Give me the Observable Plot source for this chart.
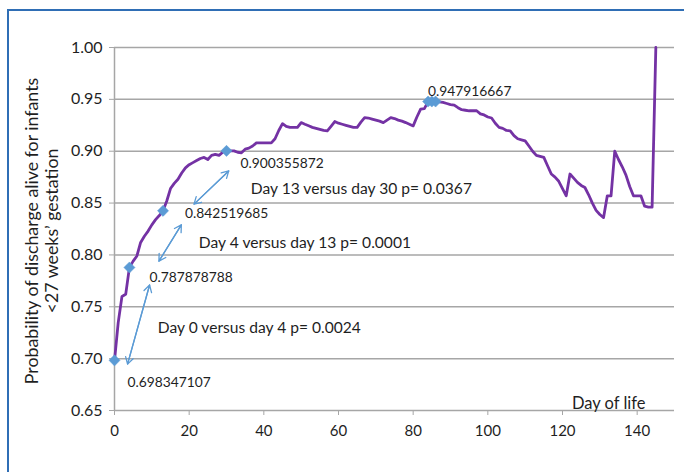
<!DOCTYPE html>
<html>
<head>
<meta charset="utf-8">
<script src="https://cdn.jsdelivr.net/npm/d3@7"></script>
<script src="https://cdn.jsdelivr.net/npm/@observablehq/plot@0.6"></script>
<style>
  html, body { margin: 0; padding: 0; background: #fff; }
  #wrap { position: relative; width: 684px; height: 472px; overflow: hidden; }
  #frame { position: absolute; left: 7px; top: 9px; width: 700px; height: 500px;
           border-left: 2px solid #2f6eb5; border-top: 2px solid #2f6eb5; }
  #chart { position: absolute; left: 0; top: 0; }
</style>
</head>
<body>
<div id="wrap"><div id="frame"></div><div id="chart"></div></div>
<script>
// ---- data ----
const days = [
  0,1,2,3,4,5,6,7,8,9,10,11,12,13,14,15,16,17,18,19,20,21,22,23,24,25,26,27,28,29,30,
  31,32,33,34,35,36,37,38,39,40,41,42,43,44,45,46,47,48,49,50,51,52,53,54,55,56,57,58,59,60,
  61,62,63,64,65,66,67,68,69,70,71,72,73,74,75,76,77,78,79,80,81,82,83,84,85,86,87,88,89,90,
  91,92,93,94,95,96,97,98,99,100,101,102,103,104,105,106,107,108,109,110,111,112,113,114,115,116,117,118,119,120,
  121,122,123,124,125,126,127,128,129,130,131,132,133,134,135,136,137,138,139,140,141,142,143,144,145
];
const probability = [
  0.698,0.735,0.760,0.762,0.788,0.794,0.799,0.812,0.818,0.823,0.829,0.834,0.838,0.8425,0.852,0.864,0.869,0.873,0.879,0.884,0.887,0.889,0.891,0.893,0.894,0.892,0.896,0.897,0.896,0.899,0.9004,
  0.9003,0.9003,0.899,0.8985,0.902,0.903,0.905,0.908,0.908,0.908,0.908,0.908,0.912,0.920,0.9266,0.924,0.923,0.923,0.923,0.9276,0.926,0.9245,0.923,0.922,0.921,0.920,0.9196,0.924,0.9286,0.927,
  0.926,0.925,0.924,0.923,0.923,0.928,0.9324,0.932,0.931,0.930,0.929,0.9276,0.930,0.9324,0.9315,0.930,0.929,0.9276,0.926,0.9244,0.933,0.9405,0.941,0.9479,0.9479,0.9479,0.9475,0.947,0.946,0.945,
  0.9445,0.942,0.940,0.9395,0.939,0.939,0.939,0.936,0.935,0.933,0.932,0.927,0.923,0.922,0.920,0.9196,0.915,0.912,0.911,0.910,0.905,0.900,0.896,0.895,0.894,0.886,0.878,0.875,0.871,0.864,
  0.857,0.878,0.874,0.870,0.867,0.865,0.858,0.850,0.843,0.839,0.836,0.857,0.857,0.900,0.892,0.885,0.877,0.866,0.857,0.857,0.857,0.847,0.846,0.846,1.000
];
const markedDays = [0, 4, 13, 30, 84, 85, 86];
const markedValues = [0.698347107, 0.787878788, 0.842519685, 0.900355872, 0.947916667, 0.947916667, 0.947916667];
const markedLabels = ["0.698347107", "0.787878788", "0.842519685", "0.900355872", "0.947916667"];
const comparisons = ["Day 0 versus day 4 p= 0.0024", "Day 4 versus day 13 p= 0.0001", "Day 13 versus day 30 p= 0.0367"];
const xTicks = [0, 20, 40, 60, 80, 100, 120, 140];
const yTicks = [0.65, 0.70, 0.75, 0.80, 0.85, 0.90, 0.95, 1.00];
const xTitle = "Day of life";
const yTitle = "Probability of discharge alive for infants\n<27 weeks’ gestation";

// ---- layout (positions / styles, kept out of the data) ----
const series = days.map((d, i) => ({day: d, p: probability[i]}));
const marked = markedDays.map((d, i) => ({day: d, p: markedValues[i]}));
const labelOffsets = [[13, 22], [20, 10], [22, 3], [14, 13], [0, -10]];
const compAnchors = [[11.6, 0.7297], [22.6, 0.8118], [36.5, 0.8636]];
const arrowEnds = [
  [3.5, 0.6947, 9.4, 0.771],
  [11.9, 0.794, 17.9, 0.829],
  [21.3, 0.849, 30.6, 0.881]
];
const arrows = arrowEnds.map(([x1, y1, x2, y2]) => ({x1, y1, x2, y2}));
const arrowsRev = arrowEnds.map(([x1, y1, x2, y2]) => ({x1: x2, y1: y2, x2: x1, y2: y1}));

const grey = "#a6a6a6";
const textCol = "#1f1f1f";
const blue = "#5b9bd5";

const labelMarks = markedLabels.map((t, i) =>
  Plot.text([marked[i]], {x: "day", y: "p", text: () => t, textAnchor: "start",
    dx: labelOffsets[i][0], dy: labelOffsets[i][1], fontSize: 13.8, fill: textCol})
);
const compMarks = comparisons.map((t, i) =>
  Plot.text([compAnchors[i]], {x: d => d[0], y: d => d[1], text: () => t, textAnchor: "start",
    fontSize: 15.6, fill: textCol})
);

const chart = Plot.plot({
  width: 684, height: 472,
  marginLeft: 114, marginRight: 10, marginTop: 47, marginBottom: 62,
  style: {fontFamily: "Lato, 'Open Sans', sans-serif", background: "transparent"},
  x: {domain: [0, 150]},
  y: {domain: [0.65, 1.0]},
  marks: [
    Plot.gridY(yTicks.slice(1), {stroke: grey, strokeOpacity: 1, strokeWidth: 1.5}),
    Plot.ruleY([0.65], {stroke: grey, strokeWidth: 1.5}),
    Plot.ruleX([0], {stroke: grey, strokeWidth: 1.5}),
    Plot.axisY(yTicks, {tickFormat: d3.format(".2f"), tickSize: 5, tickPadding: 7, stroke: grey, fill: textCol, color: textCol, fontSize: 16, label: null}),
    Plot.axisX(xTicks, {tickSize: 5, tickPadding: 10, stroke: grey, fill: textCol, color: textCol, fontSize: 15, label: null}),
    Plot.line(series, {x: "day", y: "p", stroke: "#7432a4", strokeWidth: 2.8, strokeLinejoin: "round"}),
    Plot.dot(marked, {x: "day", y: "p", symbol: "diamond2", r: 5, fill: blue, stroke: blue, strokeWidth: 0.5}),
    Plot.arrow(arrows, {x1: "x1", y1: "y1", x2: "x2", y2: "y2", bend: 0, headLength: 9, stroke: blue, strokeWidth: 1.3}),
    Plot.arrow(arrowsRev, {x1: "x1", y1: "y1", x2: "x2", y2: "y2", bend: 0, headLength: 9, stroke: blue, strokeWidth: 1.3}),
    ...labelMarks,
    ...compMarks,
    Plot.text([xTitle], {frameAnchor: "bottom-right", text: d => d, textAnchor: "end", dx: -29, dy: -7, lineAnchor: "middle", fontSize: 16.5, fill: textCol}),
    Plot.text([yTitle], {frameAnchor: "left", text: d => d, rotate: -90, textAnchor: "middle", lineAnchor: "middle", dx: -73, dy: 2, lineHeight: 1.1, fontSize: 17.8, fill: textCol})
  ]
});
document.getElementById("chart").appendChild(chart);
</script>
</body>
</html>
